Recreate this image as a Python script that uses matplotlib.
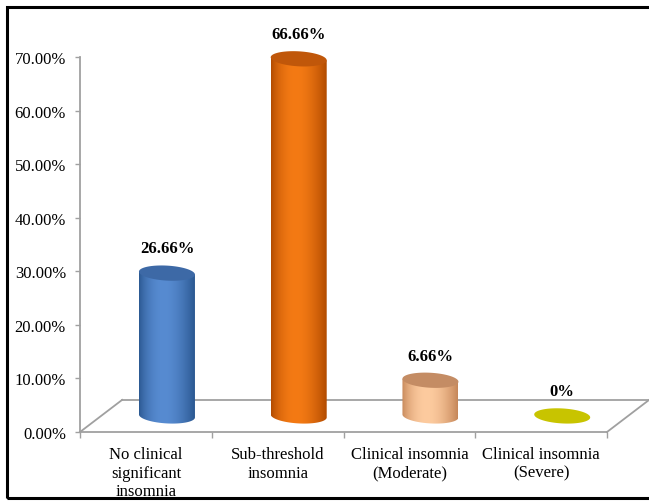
import numpy as np
import matplotlib
matplotlib.use("Agg")
import matplotlib.pyplot as plt
from matplotlib.patches import Rectangle, Polygon, PathPatch
from matplotlib.path import Path
from matplotlib.colors import to_rgb
from matplotlib.ticker import FuncFormatter, MultipleLocator, FixedLocator

categories = ["No clinical\nsignificant\ninsomnia", "Sub-threshold\ninsomnia",
              "Clinical insomnia\n(Moderate)", "Clinical insomnia\n(Severe)"]
values = [26.66, 66.66, 6.66, 0.0]
value_labels = ["26.66%", "66.66%", "6.66%", "0%"]
edge_colors = ["#2a5790", "#b04a00", "#c58658", "#b8b400"]
mid_colors = ["#578bd1", "#f47a14", "#fdcb9f", "#d2ce00"]
top_colors = ["#3d69a6", "#c0570a", "#c48c64", "#c8c400"]

plt.rcParams['font.family'] = ['Liberation Serif', 'DejaVu Serif']

W_PX, H_PX = 649, 502
fig = plt.figure(figsize=(W_PX / 100, H_PX / 100), dpi=100)
ax = fig.add_axes([80 / W_PX, 69 / H_PX, 527 / W_PX, 375 / H_PX])
ax.set_xlim(-0.5, 3.5)
ax.set_ylim(0, 70)

# depth of the 3-D floor (category units, percent units)
DX, DY = 0.32, 6.0
BAR_W = 0.425      # cylinder diameter in category units
ELL_H = 2.8        # apparent ellipse height in percent units
TILT = 0.28        # slight perspective tilt of the ellipses

grey = "#a0a0a0"

# floor outline
x0, x1 = -0.5, 3.5
ax.plot([x0, x0 + DX], [0, DY], color=grey, lw=1.3, clip_on=False, zorder=1)
ax.plot([x0 + DX, x1 + DX], [DY, DY], color=grey, lw=1.3, clip_on=False, zorder=1)
ax.plot([x1, x1 + DX], [0, DY], color=grey, lw=1.3, clip_on=False, zorder=1)


def ellipse_pts(cx, cy, th):
    return (cx + BAR_W / 2 * np.cos(th),
            cy + ELL_H / 2 * np.sin(th) - TILT * np.cos(th))


base = DY / 2
for i, v in enumerate(values):
    cx = i + DX / 2
    top = base + v
    # body: rectangle side plus the lower half of the base ellipse
    th = np.linspace(np.pi, 2 * np.pi, 60)
    bx, by = ellipse_pts(cx, base, th)
    tx, ty = ellipse_pts(cx, top, np.array([0.0, np.pi]))
    verts = [(tx[1], ty[1])] + list(zip(bx, by)) + [(tx[0], ty[0]), (tx[1], ty[1])]
    body = PathPatch(Path(verts, closed=True), facecolor="none", edgecolor="none")
    ax.add_patch(body)
    if v > 0:
        u = np.linspace(0, 1, 200)
        f = np.sin(np.pi * np.clip(u ** 0.85, 0, 1)) ** 0.9
        e = np.array(to_rgb(edge_colors[i]))
        m = np.array(to_rgb(mid_colors[i]))
        grad = (e[None, :] + (m - e)[None, :] * f[:, None])[None, :, :]
        im = ax.imshow(grad, extent=(cx - BAR_W / 2, cx + BAR_W / 2,
                                     base - ELL_H, top + ELL_H),
                       aspect="auto", interpolation="bilinear", origin="lower",
                       zorder=2)
        im.set_clip_path(body)
        im.set_clip_on(True)
    # top cap
    th2 = np.linspace(0, 2 * np.pi, 120)
    ex, ey = ellipse_pts(cx, top, th2)
    cap = Polygon(np.column_stack([ex, ey]), closed=True, facecolor=top_colors[i],
                  edgecolor="none", zorder=3, clip_on=False)
    ax.add_patch(cap)
    ax.text(cx, top + 4.6, value_labels[i], ha="center", va="center",
            fontsize=12, fontweight="bold", color="black", zorder=4)

ax.set_xlim(-0.5, 3.5)
ax.set_ylim(0, 70)

# axes styling
for s in ["top", "right"]:
    ax.spines[s].set_visible(False)
for s in ["left", "bottom"]:
    ax.spines[s].set_color(grey)
    ax.spines[s].set_linewidth(1.3)
    ax.spines[s].set_zorder(1)

ax.yaxis.set_major_locator(MultipleLocator(10))
ax.yaxis.set_major_formatter(FuncFormatter(lambda v, p: f"{v:.2f}%"))
ax.tick_params(axis="y", direction="out", length=3.6, width=1.0, color=grey,
               labelsize=12, pad=6.5, labelcolor="black")

ax.xaxis.set_major_locator(FixedLocator([-0.5, 0.5, 1.5, 2.5, 3.5]))
ax.xaxis.set_major_formatter(FuncFormatter(lambda v, p: ""))
ax.xaxis.set_minor_locator(FixedLocator([0, 1, 2, 3]))
ax.set_xticklabels(categories, minor=True)
ax.tick_params(axis="x", which="major", direction="out", length=4, width=1.0, color=grey)
ax.tick_params(axis="x", which="minor", length=0, labelsize=12, pad=10, labelcolor="black")
for lbl in ax.get_xticklabels(minor=True):
    lbl.set_linespacing(1.22)
ax.set_facecolor("none")

# chart frame
frame = Rectangle((7 / W_PX, 3 / H_PX), 700 / W_PX, 491 / H_PX, transform=fig.transFigure,
                  fill=False, edgecolor="black", linewidth=2.2, clip_on=False)
fig.patches.append(frame)

fig.savefig("out.png", dpi=100, facecolor="white")
